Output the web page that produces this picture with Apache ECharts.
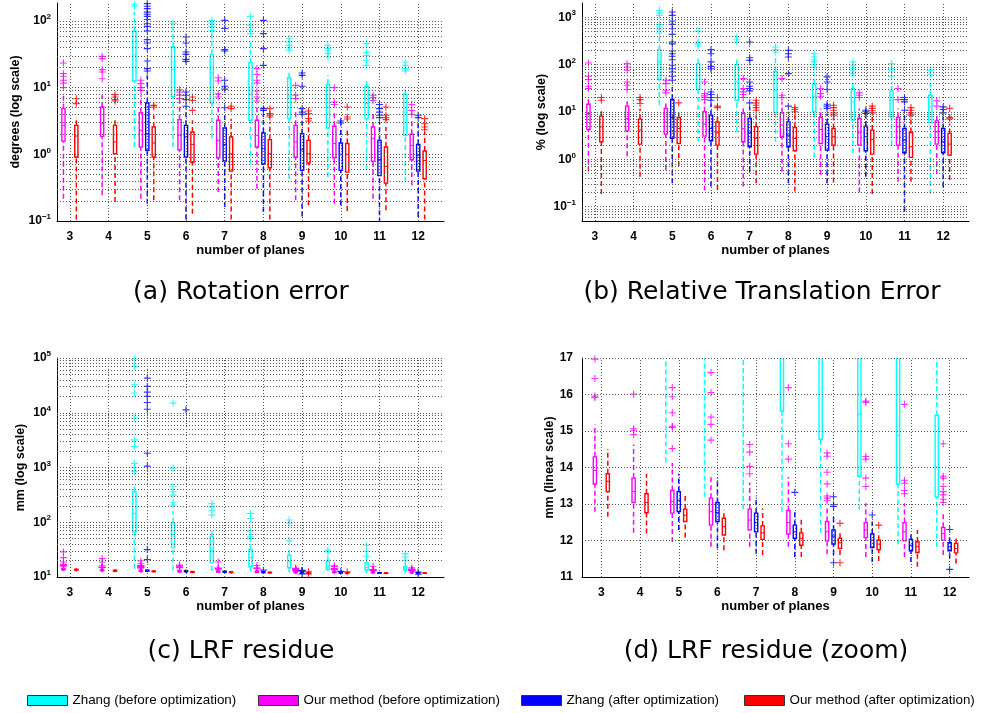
<!DOCTYPE html>
<html><head><meta charset="utf-8">
<script src="https://cdn.jsdelivr.net/npm/echarts@6/dist/echarts.min.js"></script>
<style>html,body{margin:0;padding:0;background:#fff}#c{width:981px;height:713px}</style>
</head><body><div id="c"></div><script>
const planes = ['3','4','5','6','7','8','9','10','11','12'];
const methods = ['Zhang (before optimization)','Our method (before optimization)','Zhang (after optimization)','Our method (after optimization)'];
const colors = ['#00ffff','#ff00ff','#0000ff','#ff0000'];
const captions = ['(a) Rotation error','(b) Relative Translation Error','(c) LRF residue','(d) LRF residue (zoom)'];
const yNames = ['degrees (log scale)','% (log scale)','mm (log scale)','mm (linear scale)'];

// each box: [lower whisker, Q1, median, Q3, upper whisker]
// (a) rotation error, degrees
const rotZhangBefore = [null, null,
 [1.29,12.6,31,70,136],[1.29,7.4,18.6,40.7,81],[1.72,5.9,16.6,31.3,64.6],[0.72,3.24,8.1,23.7,51],
 [0.43,3.43,7.5,14.1,17.2],[0.457,2.48,5.13,11.2,15.3],[0.61,3.43,5.75,10.5,12.9],[0.385,1.93,4.3,7.94,9.66]];
const rotZhangBeforeOut = [[],[],[178,166],[93],[102,93,83,72],[117,86,74,64.6],[54,48.4,43,39.4,36.3],[43,38.5,35.5,32.4,28.8],[45.7,33.5,30.5,25.7,21.6],[24.3,21.6,19.3,17.8]];
const rotOursBefore = [
 [0.216,1.58,2.72,4.84,8.1],[0.243,1.86,2.88,5.13,7.7],[0.216,1.29,2.29,4.2,7.7],[0.204,1.17,1.93,3.31,6.45],[0.272,0.89,1.62,3.24,5.75],
 [0.305,1.29,1.93,3.24,5.25],[0.204,0.91,1.53,2.72,4.3],[0.182,0.89,1.45,2.63,4.57],[0.216,0.79,1.72,2.57,4.3],[0.343,0.83,1.36,2.0,3.43]];
const rotOursBeforeOut = [[23.4,16.2,14.8,12.9,11.7,10],[29.5,27.2,18.6,17.2,13.6],[12.9,11.5,10,9.1],[9.3,8.6,7.7,6.84],[14.1,12.6,8.1,7.24],
 [19.3,15.8,12.9,11.7,8.9,7.24,6.3],[10.8,7.7,6.84],[10,6.1,5.6],[7.7,7.08,6.45],[5.6,4.57,3.98]];
const rotZhangAfter = [null, null,
 [0.182,1.15,2.04,5.9,15.3],[0.08,0.91,1.82,2.72,4.57],[0.162,0.79,1.41,2.48,3.85],[0.136,0.71,1.22,2.09,4.07],
 [0.117,0.575,1.17,2.04,3.43],[0.172,0.575,1.0,1.48,2.43],[0.07,0.48,0.83,1.62,3.05],[0.115,0.56,0.97,1.41,3.05]];
const rotZhangAfterOut = [[],[],[182,166,153,136,126,117,105,91,83,71,52.5,46.8,38.5,25.1,19.3,17.8],[57.5,46.8,34.3,31.6,26.6,24.8,8.6,7.7,6.6,5.25],
 [102,77,37.2,35.5,12.9,10.5,9.5,5],[102,64.6,38.5,21.6,4.84,4.57],[16.6,15.3,10.5,4.84,4.3,3.98],[3.16,2.95],[5.6,4.84,4.3,3.85,3.55],[3.85,3.55]];
const rotOursAfter = [
 [0.08,0.91,1.88,2.72,3.63],[0.193,1.02,1.53,2.72,3.43],[0.204,0.91,1.48,2.57,3.85],[0.129,0.75,1.41,2.16,3.24],[0.08,0.56,1.02,1.82,3.43],
 [0.08,0.63,1.02,1.66,3.05],[0.172,0.74,1.02,1.62,2.88],[0.141,0.54,1.0,1.45,2.43],[0.145,0.37,0.66,1.29,2.57],[0.08,0.43,0.81,1.12,2.16]];
const rotOursAfterOut = [[6.8,5.75],[7.85,7.24,6.6,6.3],[5.43,5.13],[7.24,6.45,4.57],[5.25,4.84],[4.84,4.07,3.85,3.63],[4.47,4.07,3.43,3.16],[5.13,3.63,3.39],[5.13,3.85,3.55,3.31],[3.43,2.88,2.57,2.34]];

// (b) relative translation error, %
const trZhangBefore = [null, null,
 [14,49,114,207,382],[2.35,29.8,59.6,105,145],[3.82,17.7,43,100,145],[2.35,9.6,28.8,72.4,145],
 [1.1,10.1,21.5,38.5,64.6],[1.34,6.73,16.4,31.3,46.8],[2.0,7.9,17.7,27.9,43],[0.186,5.9,12.8,22.6,39.8]];
const trZhangBeforeOut = [[],[],[1393,1224,1094,706,621,546,464],[511,300,275,247],[382,336,300],[235,207,185],[170,145,127,114,102,89],[114,97,82,73.5,64.6],[105,82,73.5,56.8],[76,62.5]];
const trOursBefore = [
 [0.55,4.28,9.3,14.6,19.2],[1.17,4.0,7.3,13.3,17.7],[0.6,3.41,6.2,11.9,15.1],[0.219,3.1,5.55,10.1,16.4],[0.266,2.35,4.5,9.3,13.9],
 [0.55,3.0,5.28,9.6,16.4],[0.47,2.17,4.28,7.66,11.9],[0.2,2.0,3.64,7.3,11.9],[0.338,2.0,4.87,7.66,11.9],[0.49,2.1,3.82,6.5,10.1]];
const trOursBeforeOut = [[108,56.8,48.3,35,31.3],[105,89,76,43,36.7,29.8],[46.8,39.8,28.8,25.3],[43,24.5,21.9,20.2,18.3],[50.7,31.3,26.6,23.4,20.2],
 [50.7,22.6,20.2],[31.3,24.5,21.5],[25.3,22.6,20.2],[31.3,18.3],[17.2,13.3]];
const trZhangAfter = [null, null,
 [0.313,2.77,7.66,18.3,33.9],[0.266,2.47,4.5,8.57,15.1],[0.55,1.85,3.64,7.3,12.8],[0.313,1.85,3.25,6.2,10.1],
 [0.313,1.57,3.0,5.55,9.3],[0.43,1.52,3.0,5.03,7.9],[0.079,1.38,2.55,4.5,8.57],[0.257,1.38,2.35,4.5,7.9]];
const trZhangAfterOut = [[],[],[1288,1094,832,706,573,435,300,275,194,170,150,127,97,82,70,57,46.8],[207,170,114,92,82,26.5,23.4,20.2,17.7],
 [300,140,123,43,35,31.3,27.9,15.6],[200,170,145,64.6,13.3],[55,43,29.8,14.6,13.3,11.9],[10.9,10.1,9.3],[20.2,18.3,16.4,10.9],[12.8,11.3,9.6]];
const trOursAfter = [
 [0.186,2.35,4.87,8.17,10.9],[0.43,2.1,4.15,7.06,11.9],[0.72,2.17,4.5,7.66,10.9],[0.226,2.0,3.64,6.2,8.57],[0.313,1.29,2.77,4.87,8.57],
 [0.209,1.52,2.77,4.72,8.57],[0.323,2.0,3.0,4.5,7.66],[0.186,1.29,2.64,4.15,8.17],[0.338,1.1,1.85,3.7,7.66],[0.367,1.23,2.1,3.53,5.7]];
const trOursAfterOut = [[20.2,17.7],[20.2,18.3,15.1],[15.6],[20.2,13.3,12.4],[17.7,15.6,13.9,12.4,10.9],[12.4,11.3,10.1],[13.9,12.4,10.9,9.6,8.57],[13.3,11.9,10.6,9.6],[12.4,10.9,9.6,8.57],[11.9,7.66,7.16]];

// (c)/(d) LRF residue, mm
const lrfZhangBefore = [null, null,
 [14.14,66.7,145,361,446],[13.2,34.4,59.7,97.5,160],[12.86,18.1,30.8,55.6,71.6],[12.79,15.55,22.6,31.7,47],
 [12.21,14.77,19.4,24.9,35.5],[12.84,13.76,15.46,19.4,26.8],[11.9,13.55,14.88,18.1,21.7],[11.83,13.19,14.01,15.43,18.5]];
const lrfZhangBeforeOut = [[],[],[95000,70300,32400,22900,7940,3190,2410,1190,1000,840],[15000,966,446,361,313,227,206],[220,191,162,135],
 [145,117,69.7,54,50.3],[110,95.7,45.7],[30.8,28.7],[38,29.5,23.9],[26.7,23.2,20.2]];
const lrfOursBefore = [
 [12.79,13.55,13.92,14.29,15.18],[12.21,13.04,13.34,13.71,14.63],[11.96,12.75,13.07,13.37,14.12],[11.83,12.42,12.79,13.16,13.76],[11.83,12.29,12.56,12.86,13.59],
 [11.83,12.18,12.49,12.82,13.74],[11.62,11.99,12.24,12.52,12.93],[11.55,12.08,12.29,12.49,13.02],[11.55,11.99,12.24,12.49,13.02],[11.6,12.01,12.19,12.36,12.75]];
const lrfOursBeforeOut = [[28.7,22.6,18.8,16.97,16.44,15.96,15.92],[21.7,18.8,16.01,15.06,15.02,14.9],[19.6,17.5,16.19,15.94,15.5,15.13,15.1,14.52],[16.6,16.05,15.38,15.18,14.75],
 [18.8,14.63,14.42,14.03,13.83],[16.19,14.65,14.23],[14.4,14.31,13.87,13.55,13.22,13.16,13.09],[15.82,15.78,14.3,14.23,13.71,13.48],[15.73,13.65,13.57,13.37,13.28],[14.65,13.76,13.71,13.48,13.34,13.25,13.13,13.04]];
const lrfZhangAfter = [null, null,
 [12.29,12.79,13.1,13.34,13.83],[11.78,12.52,12.76,13.04,13.71],[11.64,12.24,12.49,12.75,13.2],[11.55,12.06,12.24,12.42,12.84],
 [11.6,11.9,12.12,12.29,12.65],[11.41,11.81,12.01,12.18,12.52],[11.41,11.72,11.87,12.03,12.19],[11.51,11.72,11.83,11.94,12.1]];
const lrfZhangAfterOut = [[],[],[43000,30300,23800,19900,15400,11600,1820,1060,31.7,20.8],[11300],[],[13.32],[13.2,12.98,12.93,11.39],[12.7],[],[12.3,11.21]];
const lrfOursAfter = [
 [12.65,13.34,13.62,13.83,14.51],[12.19,12.76,13.04,13.28,13.83],[12.08,12.52,12.69,12.86,13.28],[11.73,12.15,12.38,12.61,12.84],[11.6,12.03,12.21,12.4,12.88],
 [11.55,11.87,12.06,12.21,12.64],[11.6,11.78,11.94,12.06,12.24],[11.44,11.75,11.9,12.01,12.24],[11.28,11.67,11.83,11.96,12.29],[11.37,11.66,11.78,11.92,12.1]];
const lrfOursAfterOut = [[],[],[],[],[],[],[12.47,11.39],[12.42],[],[]];

const panelBoxes = [
  [rotZhangBefore, rotOursBefore, rotZhangAfter, rotOursAfter],
  [trZhangBefore, trOursBefore, trZhangAfter, trOursAfter],
  [lrfZhangBefore, lrfOursBefore, lrfZhangAfter, lrfOursAfter],
  [lrfZhangBefore, lrfOursBefore, lrfZhangAfter, lrfOursAfter]
];
const panelOutliers = [
  [rotZhangBeforeOut, rotOursBeforeOut, rotZhangAfterOut, rotOursAfterOut],
  [trZhangBeforeOut, trOursBeforeOut, trZhangAfterOut, trOursAfterOut],
  [lrfZhangBeforeOut, lrfOursBeforeOut, lrfZhangAfterOut, lrfOursAfterOut],
  [lrfZhangBeforeOut, lrfOursBeforeOut, lrfZhangAfterOut, lrfOursAfterOut]
];

const chart = echarts.init(document.getElementById('c'), null, {renderer: 'canvas'});
const FONT = 'Liberation Sans';
const grids = [
  {left: 57, top: 3, width: 387, height: 218},
  {left: 582, top: 3, width: 387, height: 218},
  {left: 57, top: 358, width: 387, height: 219},
  {left: 582, top: 358, width: 387, height: 219}
];
const xRanges = [[-2,58],[-2,58],[-2,58],[-3,57]];
const yRanges = [[0.1,186],[0.05,2000],[10,100000],[11,17]];
const nameGaps = [35,34,29.5,26];
const tickVals = planes.map((p,i)=>i*6);

function logLabel(v){
  const l = Math.log10(v), e = Math.round(l);
  if (Math.abs(l - e) > 1e-6) return '';
  return '{b|10}{s|' + (e < 0 ? '\u2212' + (-e) : e) + '}';
}

const xAxis = grids.map((g,i)=>({
  gridIndex: i, type: 'value', min: xRanges[i][0], max: xRanges[i][1],
  name: 'number of planes', nameLocation: 'middle', nameGap: 18,
  nameTextStyle: {fontFamily: FONT, fontWeight: 'bold', fontSize: 13, color: '#000'},
  axisLine: {show: true, onZero: false, lineStyle: {color: '#000', width: 1}},
  axisTick: {show: false, customValues: tickVals},
  splitLine: {show: false},
  axisLabel: {customValues: tickVals, margin: 10, fontFamily: FONT, fontWeight: 'bold', fontSize: 12, color: '#000',
    formatter: v => planes[Math.round(v/6)]}
}));
const yAxis = grids.map((g,i)=>{
  const isLog = i < 3;
  const ax = {
    gridIndex: i, type: isLog ? 'log' : 'value', min: yRanges[i][0], max: yRanges[i][1],
    name: yNames[i], nameLocation: 'middle', nameGap: nameGaps[i],
    nameTextStyle: {fontFamily: FONT, fontWeight: 'bold', fontSize: 12.5, color: '#000'},
    axisLine: {show: true, onZero: false, lineStyle: {color: '#000', width: 1}},
    axisTick: {show: false}, splitLine: {show: false},
    axisLabel: isLog ? {margin: 6, color: '#000', formatter: logLabel,
      rich: {b: {fontFamily: FONT, fontWeight: 'bold', fontSize: 12, color: '#000'},
             s: {fontFamily: FONT, fontWeight: 'bold', fontSize: 8, color: '#000', padding: [0,0,8,0]}}}
      : {margin: 9, fontFamily: FONT, fontWeight: 'bold', fontSize: 12, color: '#000'}
  };
  if (isLog) ax.logBase = 10; else ax.interval = 1;
  return ax;
});

function gridLineValues(i){
  const [lo, hi] = yRanges[i];
  const vals = [];
  if (i === 3) { for (let v = 12; v <= 17; v++) vals.push(v); return vals; }
  for (let e = -3; e <= 6; e++) for (let k = 1; k <= 9; k++) {
    const v = k * Math.pow(10, e);
    if (v > lo * 1.0001 && v < hi * 0.9999) vals.push(v);
  }
  if (i === 2) vals.push(hi);
  return vals;
}

function renderBox(params, api){
  const x = api.value(0);
  const lo = api.coord([x, api.value(1)]);
  const q1 = api.coord([x, api.value(2)]);
  const md = api.coord([x, api.value(3)]);
  const q3 = api.coord([x, api.value(4)]);
  const hi = api.coord([x, api.value(5)]);
  const c = api.visual('color');
  const hw = 1.6;
  return {type: 'group', children: [
    {type: 'line', shape: {x1: lo[0], y1: lo[1], x2: q1[0], y2: q1[1]}, style: {stroke: c, lineWidth: 1.5, lineDash: [5,3]}},
    {type: 'line', shape: {x1: q3[0], y1: q3[1], x2: hi[0], y2: hi[1]}, style: {stroke: c, lineWidth: 1.5, lineDash: [5,3]}},
    {type: 'rect', shape: {x: q1[0]-hw, y: q3[1], width: 2*hw, height: q1[1]-q3[1]}, style: {fill: 'none', stroke: c, lineWidth: 1.4}},
    {type: 'line', shape: {x1: md[0]-hw, y1: md[1], x2: md[0]+hw, y2: md[1]}, style: {stroke: c, lineWidth: 1}}
  ]};
}

const plus = 'path://M4.2,0H5.8V4.2H10V5.8H5.8V10H4.2V5.8H0V4.2H4.2Z';
const series = [];
grids.forEach((g, i) => {
  series.push({
    type: 'line', name: '_grid' + i, xAxisIndex: i, yAxisIndex: i, data: [], silent: true, z: 1,
    markLine: {silent: true, symbol: ['none','none'], label: {show: false}, animation: false,
      lineStyle: {color: '#555', type: [1,2], width: 1},
      data: gridLineValues(i).map(v => ({yAxis: v})).concat(tickVals.map(v => ({xAxis: v})))}
  });
  methods.forEach((name, k) => {
    const boxData = [], outData = [];
    panelBoxes[i][k].forEach((st, gi) => {
      if (!st) return;
      const x = gi * 6 + k - 2;
      boxData.push([x].concat(st));
      panelOutliers[i][k][gi].forEach(v => outData.push([x, v]));
    });
    series.push({type: 'custom', name, xAxisIndex: i, yAxisIndex: i, clip: true, z: 3,
      renderItem: renderBox, itemStyle: {color: colors[k]}, data: boxData,
      encode: {x: 0, y: [1,2,3,4,5]}});
    series.push({type: 'scatter', name, xAxisIndex: i, yAxisIndex: i, clip: true, z: 4,
      symbol: plus, symbolSize: 7, itemStyle: {color: colors[k]}, data: outData});
  });
});

const titlePos = [[241,280],[762,280],[241,639],[766,639]];
const option = {
  animation: false,
  backgroundColor: '#fff',
  grid: grids,
  xAxis, yAxis,
  title: captions.map((t, i) => ({text: t, left: titlePos[i][0], top: titlePos[i][1], textAlign: 'center', padding: 0,
    textStyle: {fontFamily: 'DejaVu Sans', fontWeight: 'normal', fontSize: 25, color: '#000'}})),
  legend: methods.map((m, k) => ({
    data: [{name: m, icon: 'rect', itemStyle: {color: colors[k], borderColor: '#333', borderWidth: 1}}],
    left: [27,258,521,744][k], top: 694, itemWidth: 40, itemHeight: 10, padding: 0, selectedMode: false,
    textStyle: {fontFamily: FONT, fontSize: 13.4, color: '#000'}
  })),
  series
};
chart.setOption(option);
</script></body></html>
